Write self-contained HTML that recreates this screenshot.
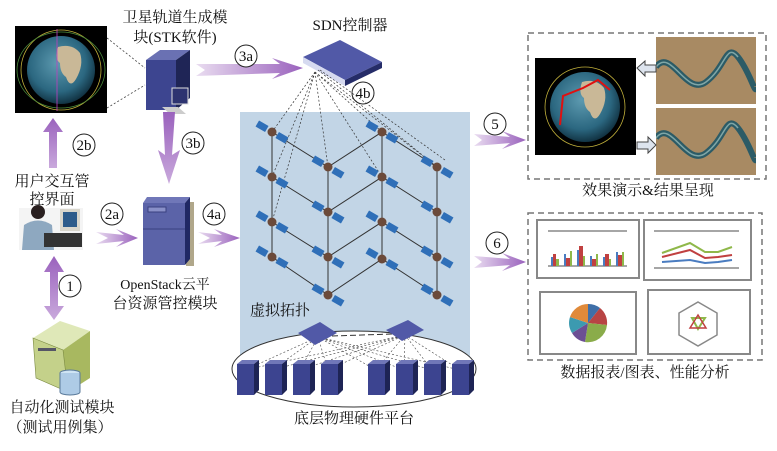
<!DOCTYPE html>
<html><head><meta charset="utf-8"><style>
html,body{margin:0;padding:0;background:#fff;}
svg{display:block;}
text{font-family:"Liberation Serif","Noto Serif CJK SC",serif;fill:#111;}
.c{font-family:"Liberation Serif",serif;font-size:15px;}
</style></head><body>
<svg width="777" height="451" viewBox="0 0 777 451" xmlns="http://www.w3.org/2000/svg">
<defs>
<linearGradient id="ah" x1="0" x2="1" y1="0" y2="0"><stop offset="0" stop-color="#e9dcf0"/><stop offset="1" stop-color="#9a62bd"/></linearGradient>
<linearGradient id="av" x1="0" x2="0" y1="0" y2="1"><stop offset="0" stop-color="#9a62bd"/><stop offset="1" stop-color="#c9a9dc"/></linearGradient>
<radialGradient id="earth" cx="0.45" cy="0.4" r="0.6"><stop offset="0" stop-color="#5d9ab0"/><stop offset="0.7" stop-color="#2b6780"/><stop offset="1" stop-color="#123444"/></radialGradient>
<pattern id="river" x="656" y="37" width="100" height="67" patternUnits="userSpaceOnUse">
<rect width="100" height="67" fill="#a88a63"/>
<path d="M0 30 C15 10 30 60 50 45 S70 5 82 20 S100 60 100 50" stroke="#2c5b66" stroke-width="6" fill="none"/>
<path d="M0 30 C15 10 30 60 50 45 S70 5 82 20" stroke="#7fa6a6" stroke-width="1.5" fill="none"/>
</pattern>
<g id="sat">
<g transform="rotate(30)">
<rect x="-17" y="-3.5" width="11" height="7" fill="#2f6fb8"/>
<rect x="6" y="-3.5" width="11" height="7" fill="#2f6fb8"/>
</g>
<circle r="4.5" fill="#6b4a3a"/>
</g>
<g id="srv">
<polygon points="0,4 5,0 22,0 17,4" fill="#7077b8"/>
<polygon points="17,4 22,0 22,30 17,35" fill="#1e2455"/>
<rect x="0" y="4" width="17" height="31" fill="#3c4490"/>
</g>
</defs>

<!-- Earth top-left -->
<rect x="15" y="26" width="92" height="87" fill="#000"/>
<ellipse cx="61" cy="70" rx="40" ry="40" fill="none" stroke="#bfae3a" stroke-width="0.8"/>
<ellipse cx="61" cy="70" rx="44" ry="38" fill="none" stroke="#4a8a3a" stroke-width="0.8"/>
<circle cx="61" cy="70" r="34" fill="url(#earth)"/>
<path d="M58 47 q14 -4 22 6 q4 12 -4 26 q-6 10 -10 -2 q-6 -4 -6 -14 q-6 -4 -2 -16z" fill="#c9b897"/>
<line x1="57" y1="29" x2="57" y2="111" stroke="#c03ec0" stroke-width="0.8"/>
<path d="M107 38 L145 68 M107 108 L145 85" stroke="#444" stroke-dasharray="2,2" stroke-width="0.8"/>

<!-- STK label -->
<text x="175" y="22" font-size="15" text-anchor="middle">卫星轨道生成模</text>
<text x="175" y="42" font-size="15" text-anchor="middle">块(STK软件)</text>
<!-- STK computer -->
<polygon points="146,60 160,50 190,50 176,60" fill="#6a71b3"/>
<polygon points="176,60 190,50 190,98 176,110" fill="#1f2556"/>
<rect x="146" y="60" width="30" height="50" fill="#3d4590"/>
<rect x="172" y="88" width="16" height="16" fill="#2d3370" stroke="#ddd"/>
<polygon points="162,107 178,107 186,114 170,114" fill="#ccc"/>

<!-- 3a arrow -->
<polygon points="196,64 205,70 196,76 280,73 272,79 303,68 272,58 280,64" fill="url(#ah)"/>
<circle cx="246" cy="56" r="11" fill="#fff" stroke="#222"/><text x="246" y="61" class="c" text-anchor="middle">3a</text>

<!-- SDN -->
<text x="350" y="30" font-size="15" text-anchor="middle">SDN控制器</text>
<polygon points="303,57 340,40 382,62 345,80" fill="#5159a7"/>
<polygon points="303,57 345,80 345,86 303,63" fill="#d6daf0"/>
<polygon points="345,80 382,62 382,68 345,86" fill="#252c68"/>
<circle cx="363" cy="93" r="11" fill="#fff" stroke="#222"/><text x="363" y="98" class="c" text-anchor="middle">4b</text>

<!-- blue panel -->
<rect x="240" y="112" width="230" height="250" fill="#c2d5e6"/>
<g stroke="#333" stroke-width="0.7" stroke-dasharray="2,2" fill="none">
<path d="M315 72 L272 132 M315 72 L272 177 M315 72 L272 222 M315 72 L328 167 M315 72 L382 177 M315 72 L382 132 M315 72 L437 167 M318 70 L437 167 M320 70 L445 160"/>
</g>
<g stroke="#333" stroke-width="1" fill="none">
<path d="M272 132 V257 M328 167 V295 M382 132 V259 M437 167 V295"/>
<path d="M272 132 L328 167 L382 132 L437 167 M272 177 L328 212 L382 177 L437 212 M272 222 L328 257 L382 222 L437 257 M272 257 L328 295 L382 259 L437 295"/>
</g>
<g>
<use href="#sat" x="272" y="132"/><use href="#sat" x="272" y="177"/><use href="#sat" x="272" y="222"/><use href="#sat" x="272" y="257"/>
<use href="#sat" x="328" y="167"/><use href="#sat" x="328" y="212"/><use href="#sat" x="328" y="257"/><use href="#sat" x="328" y="295"/>
<use href="#sat" x="382" y="132"/><use href="#sat" x="382" y="177"/><use href="#sat" x="382" y="222"/><use href="#sat" x="382" y="259"/>
<use href="#sat" x="437" y="167"/><use href="#sat" x="437" y="212"/><use href="#sat" x="437" y="257"/><use href="#sat" x="437" y="295"/>
</g>
<text x="250" y="315" font-size="15">虚拟拓扑</text>

<!-- physical platform -->
<ellipse cx="354" cy="369" rx="122" ry="38" fill="#fff" stroke="#333"/>
<g stroke="#444" stroke-width="0.6" stroke-dasharray="2,2">
<path d="M318 337 L245 370 M318 337 L272 370 M318 337 L300 370 M318 337 L328 370 M318 337 L376 370 M318 337 L404 370 M318 337 L432 370 M318 337 L460 370 M405 335 L245 370 M405 335 L272 370 M405 335 L300 370 M405 335 L328 370 M405 335 L376 370 M405 335 L404 370 M405 335 L432 370 M405 335 L460 370"/>
</g>
<line x1="332" y1="336" x2="392" y2="334" stroke="#333" stroke-dasharray="6,3"/>
<polygon points="298,333 320,322 337,333 315,345" fill="#5159a7"/>
<polygon points="386,330 408,320 424,330 402,341" fill="#5159a7"/>
<use href="#srv" x="237" y="360"/><use href="#srv" x="265" y="360"/><use href="#srv" x="293" y="360"/><use href="#srv" x="321" y="360"/>
<use href="#srv" x="368" y="360"/><use href="#srv" x="396" y="360"/><use href="#srv" x="424" y="360"/><use href="#srv" x="452" y="360"/>
<text x="354" y="423" font-size="15" text-anchor="middle">底层物理硬件平台</text>

<!-- 5 and 6 arrows -->
<polygon points="474,134 482,140 474,146 510,143 502,149 526,140 502,131 510,137" fill="url(#ah)"/>
<circle cx="495" cy="124" r="11" fill="#fff" stroke="#222"/><text x="495" y="129" class="c" text-anchor="middle">5</text>
<polygon points="474,256 482,262 474,268 510,265 502,271 526,262 502,253 510,259" fill="url(#ah)"/>
<circle cx="497" cy="243" r="11" fill="#fff" stroke="#222"/><text x="497" y="248" class="c" text-anchor="middle">6</text>

<!-- result box top -->
<rect x="528" y="33" width="238" height="146" fill="none" stroke="#777" stroke-width="1.5" stroke-dasharray="6,4"/>
<rect x="535" y="58" width="101" height="97" fill="#000"/>
<circle cx="585" cy="107" r="40" fill="none" stroke="#bfae3a" stroke-width="0.8"/>
<circle cx="585" cy="107" r="35" fill="url(#earth)"/>
<path d="M582 82 q14 -4 22 6 q4 12 -4 26 q-6 10 -10 -2 q-6 -4 -6 -14 q-6 -4 -2 -16z" fill="#c9b897"/>
<path d="M610 90 L598 80 L583 88 L563 96 L560 125" stroke="#e01010" stroke-width="2" fill="none"/>
<rect x="656" y="37" width="100" height="67" fill="url(#river)"/>
<g transform="translate(0,71)"><rect x="656" y="37" width="100" height="67" fill="url(#river)"/></g>
<polygon points="637,68 645,61 645,65 656,65 656,72 645,72 645,76" fill="#dde4ee" stroke="#444"/>
<polygon points="637,142 648,142 648,137 656,145 648,153 648,149 637,149" fill="#dde4ee" stroke="#444"/>
<text x="648" y="195" font-size="15" text-anchor="middle">效果演示&amp;结果呈现</text>

<!-- result box bottom -->
<rect x="528" y="213" width="234" height="147" fill="none" stroke="#777" stroke-width="1.5" stroke-dasharray="6,4"/>
<g fill="none" stroke="#888" stroke-width="2">
<rect x="537" y="220" width="102" height="58"/><rect x="644" y="220" width="107" height="60"/>
<rect x="540" y="292" width="96" height="62"/><rect x="648" y="290" width="102" height="64"/>
</g>
<g stroke="#888" stroke-width="1.5"><line x1="548" y1="231" x2="627" y2="231"/><line x1="548" y1="266" x2="627" y2="266"/><line x1="654" y1="231" x2="739" y2="231"/><line x1="654" y1="268" x2="739" y2="268"/></g>
<g>
<rect x="551" y="257" width="2" height="9" fill="#4a7cc0"/><rect x="553" y="254" width="3" height="12" fill="#c04040"/><rect x="556" y="259" width="3" height="7" fill="#8fb84a"/>
<rect x="564" y="254" width="2" height="12" fill="#4a7cc0"/><rect x="566" y="258" width="4" height="8" fill="#c04040"/><rect x="570" y="251" width="2" height="15" fill="#8fb84a"/>
<rect x="577" y="250" width="2" height="16" fill="#4a7cc0"/><rect x="579" y="246" width="4" height="20" fill="#c04040"/><rect x="583" y="256" width="2" height="10" fill="#8fb84a"/>
<rect x="590" y="256" width="2" height="10" fill="#4a7cc0"/><rect x="592" y="259" width="4" height="7" fill="#c04040"/><rect x="596" y="254" width="2" height="12" fill="#8fb84a"/>
<rect x="603" y="257" width="2" height="9" fill="#4a7cc0"/><rect x="605" y="254" width="4" height="12" fill="#c04040"/><rect x="609" y="259" width="2" height="7" fill="#8fb84a"/>
<rect x="616" y="252" width="2" height="14" fill="#4a7cc0"/><rect x="618" y="255" width="4" height="11" fill="#c04040"/><rect x="622" y="252" width="2" height="14" fill="#8fb84a"/>
</g>
<polyline points="662,253 690,243 705,252 718,252 732,247" stroke="#8fb84a" stroke-width="2" fill="none"/>
<polyline points="662,257 690,250 705,258 718,257 732,255" stroke="#c04040" stroke-width="2" fill="none"/>
<polyline points="662,262 690,260 705,263 718,262 732,260" stroke="#4a7cc0" stroke-width="2" fill="none"/>
<g transform="translate(588,323)">
<path d="M0 0 L0 -19 A19 19 0 0 1 12 -15 Z" fill="#3f6fa8"/>
<path d="M0 0 L12 -15 A19 19 0 0 1 19 2 Z" fill="#b84444"/>
<path d="M0 0 L19 2 A19 19 0 0 1 -3 19 Z" fill="#8aac4a"/>
<path d="M0 0 L-3 19 A19 19 0 0 1 -16 10 Z" fill="#6c4f94"/>
<path d="M0 0 L-16 10 A19 19 0 0 1 -18 -6 Z" fill="#3c9ab0"/>
<path d="M0 0 L-18 -6 A19 19 0 0 1 0 -19 Z" fill="#e08a3a"/>
</g>
<polygon points="698,302 717,313 717,335 698,346 679,335 679,313" fill="none" stroke="#888" stroke-width="1.5"/>
<polygon points="692,318 705,318 698,329" fill="none" stroke="#8fb84a" stroke-width="2"/>
<polygon points="698,315 706,328 690,328" fill="none" stroke="#c04040" stroke-width="1.5"/>
<text x="645" y="377" font-size="15" text-anchor="middle">数据报表/图表、性能分析</text>

<!-- left user -->
<text x="52" y="186" font-size="15" text-anchor="middle">用户交互管</text>
<text x="52" y="204" font-size="15" text-anchor="middle">控界面</text>
<polygon points="53,118 43,132 49,132 49,168 57,168 57,132 63,132" fill="url(#av)"/>
<circle cx="84" cy="145" r="11" fill="#fff" stroke="#222"/><text x="84" y="150" class="c" text-anchor="middle">2b</text>
<rect x="19" y="208" width="64" height="42" fill="#f4f4f4"/>
<circle cx="38" cy="212" r="7" fill="#2a2020"/>
<path d="M22 250 L24 225 Q38 216 52 225 L54 250 Z" fill="#8ea8c0"/>
<rect x="60" y="209" width="20" height="22" fill="#d9d6cc"/><rect x="63" y="212" width="14" height="15" fill="#2d5b8a"/>
<rect x="44" y="233" width="38" height="14" fill="#333"/>

<polygon points="96,232 108,238 96,244 124,241 116,247 138,238 116,229 124,235" fill="url(#ah)"/>
<circle cx="112" cy="214" r="11" fill="#fff" stroke="#222"/><text x="112" y="219" class="c" text-anchor="middle">2a</text>

<!-- 3b -->
<polygon points="163,112 175,112 172,155 180,150 169,184 158,150 165,155" fill="url(#av)"/>
<circle cx="193" cy="143" r="11" fill="#fff" stroke="#222"/><text x="193" y="148" class="c" text-anchor="middle">3b</text>

<!-- OpenStack server -->
<rect x="186" y="202" width="8" height="64" fill="#b0a78a"/>
<polygon points="143,203 147,197 190,197 185,203" fill="#7077b8"/>
<polygon points="185,203 190,197 190,259 185,265" fill="#202864"/>
<rect x="143" y="203" width="42" height="62" fill="#5b63a8"/>
<rect x="148" y="207" width="18" height="5" fill="#8990c8" stroke="#3a4080"/>
<line x1="143" y1="229" x2="185" y2="229" stroke="#3a4080"/>
<text x="165" y="289" font-size="14" text-anchor="middle" font-family="Liberation Mono,Noto Sans CJK SC,monospace">OpenStack云平</text>
<text x="165" y="308" font-size="15" text-anchor="middle">台资源管控模块</text>

<polygon points="198,232 210,238 198,244 222,241 214,247 240,238 214,229 222,235" fill="url(#ah)"/>
<circle cx="214" cy="214" r="11" fill="#fff" stroke="#222"/><text x="214" y="219" class="c" text-anchor="middle">4a</text>

<!-- 1 double arrow -->
<polygon points="54,256 44,272 50,272 50,306 44,306 54,320 64,306 58,306 58,272 64,272" fill="url(#av)"/>
<circle cx="70" cy="286" r="11" fill="#fff" stroke="#222"/><text x="70" y="291" class="c" text-anchor="middle">1</text>

<!-- test DB -->
<polygon points="33,338 60,321 90,331 63,350" fill="#dfe8b8"/>
<polygon points="63,350 90,331 90,378 68,392" fill="#a8b860"/>
<polygon points="33,338 63,350 68,392 36,378" fill="#c4d18a" stroke="#7a8a40" stroke-width="0.6"/>
<rect x="38" y="348" width="18" height="3" fill="#556"/>
<ellipse cx="70" cy="373" rx="10" ry="3" fill="#cfe4f4" stroke="#5a7a9a"/>
<path d="M60 373 V392 A10 3 0 0 0 80 392 V373" fill="#aecbe6" stroke="#5a7a9a"/>
<text x="62" y="412" font-size="15" text-anchor="middle">自动化测试模块</text>
<text x="60" y="432" font-size="15" text-anchor="middle">（测试用例集）</text>
</svg>
</body></html>
